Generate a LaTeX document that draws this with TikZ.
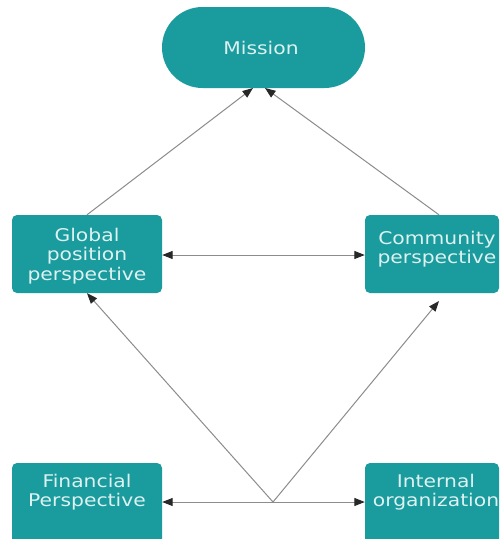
\documentclass[tikz,border=0pt]{standalone}
\usepackage{fontspec}
\newfontfamily\lblfont[FakeStretch=1.16]{DejaVu Sans}
\usetikzlibrary{arrows.meta}
\definecolor{teal1}{RGB}{26,155,158}
\definecolor{txt}{RGB}{222,241,241}
\definecolor{ln}{RGB}{140,140,140}
\definecolor{tip}{RGB}{40,40,40}
\begin{document}
\begin{tikzpicture}[x=1pt,y=-1pt,
 box/.style={fill=teal1, draw=none, rounded corners=5pt, inner sep=0pt},
 lbl/.style={text=txt, font=\lblfont\fontsize{17.5}{19.5}\selectfont, align=center, inner sep=0pt},
 conn/.style={draw=ln, line width=1pt},
 arr/.style={conn, -{Triangle[length=10.5pt,width=8pt,color=tip]}},
 darr/.style={conn, {Triangle[length=10.5pt,width=8pt,color=tip]}-{Triangle[length=10.5pt,width=8pt,color=tip]}}
]
\useasboundingbox (0,0) rectangle (503,539);
\clip (0,0) rectangle (503,539);
\fill[white] (0,0) rectangle (503,539);
% nodes
\node[box, rounded corners=40.5pt, minimum width=203pt, minimum height=81pt] (mission) at (263.5,47.5) {};
\node[lbl] (missiont) at (261,48) {Mission};
\node[box, minimum width=150pt, minimum height=78pt] (global) at (87,254) {};
\node[lbl] (globalt) at (87,256) {Global\\position\\perspective};
\node[box, minimum width=134pt, minimum height=78pt] (community) at (432,254) {};
\node[lbl] (communityt) at (437,249) {Community\\perspective};
\node[box, minimum width=150pt, minimum height=82pt] (financial) at (87,504) {};
\node[lbl] (financialt) at (87,492) {Financial\\Perspective};
\node[box, minimum width=134pt, minimum height=82pt] (internal) at (432,504) {};
\node[lbl] (internalt) at (436,492) {Internal\\organization};
\coordinate (junc) at (273,502);
\coordinate (mtipl) at (253,88);
\coordinate (mtipr) at (265,88);
\coordinate (ctip) at (439,301);
% connectors
\draw[arr] (global.north -| 87,0) -- (mtipl);
\draw[arr] (community.north -| 439,0) -- (mtipr);
\draw[darr] (global.east |- 0,255) -- (community.west |- 0,255);
\draw[arr] (junc) -- (financial.east |- junc);
\draw[arr] (junc) -- (internal.west |- junc);
\draw[arr] (junc) -- (global.south -| 87,0);
\draw[arr] (junc) -- (ctip);
\end{tikzpicture}
\end{document}
